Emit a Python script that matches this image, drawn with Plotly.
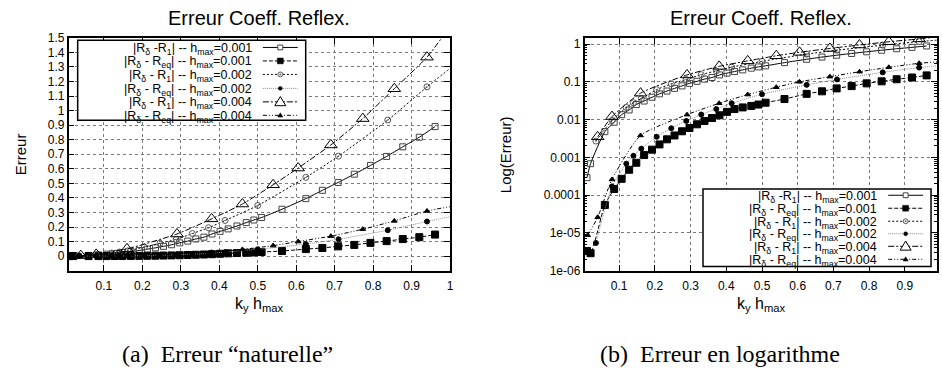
import plotly.graph_objects as go

W, H = 942, 378

# ---------------- data ----------------
x_r1_h001 = [0.01, 0.02, 0.06, 0.086, 0.107, 0.128, 0.148, 0.17, 0.192, 0.213, 0.234, 0.255, 0.276,
             0.297, 0.318, 0.339, 0.36, 0.381, 0.402, 0.423, 0.446, 0.47, 0.49, 0.51, 0.563, 0.625,
             0.668, 0.709, 0.751, 0.793, 0.835, 0.877, 0.92, 0.961]
y_r1_h001 = [0.00029, 0.00068, 0.0048, 0.0085, 0.0135, 0.018, 0.025, 0.031, 0.039, 0.048, 0.057, 0.067,
             0.078, 0.091, 0.103, 0.118, 0.13, 0.152, 0.17, 0.187, 0.207, 0.23, 0.248, 0.265, 0.322,
             0.395, 0.452, 0.506, 0.563, 0.623, 0.685, 0.751, 0.817, 0.89]

x_req_h001 = [0.01, 0.02, 0.06, 0.086, 0.107, 0.128, 0.148, 0.17, 0.192, 0.213, 0.234, 0.255, 0.276,
              0.297, 0.318, 0.339, 0.36, 0.381, 0.402, 0.423, 0.446, 0.47, 0.49, 0.51, 0.563, 0.625,
              0.668, 0.709, 0.751, 0.793, 0.835, 0.877, 0.92, 0.961]
y_req_h001 = [3.3e-6, 2.9e-6, 5.5e-5, 1.45e-4, 2.7e-4, 4.7e-4, 7.2e-4, 0.00115, 0.0016, 0.0022, 0.003,
              0.0038, 0.0049, 0.006, 0.0075, 0.0092, 0.011, 0.013, 0.016, 0.019, 0.021, 0.023, 0.025,
              0.028, 0.035, 0.048, 0.056, 0.067, 0.077, 0.091, 0.103, 0.117, 0.13, 0.148]

x_r1_h002 = [0.035, 0.08, 0.12, 0.14, 0.162, 0.205, 0.246, 0.288, 0.33, 0.372, 0.415, 0.5, 0.625,
             0.71, 0.838, 0.94]
y_r1_h002 = [0.0027, 0.0095, 0.021, 0.028, 0.036, 0.062, 0.088, 0.115, 0.155, 0.195, 0.245, 0.348,
             0.541, 0.687, 0.935, 1.163]

x_req_h002 = [0.035, 0.08, 0.12, 0.14, 0.162, 0.205, 0.246, 0.288, 0.33, 0.372, 0.415, 0.5, 0.625,
              0.71, 0.838, 0.94]
y_req_h002 = [5.4e-6, 1.7e-4, 6.8e-4, 1.1e-3, 1.7e-3, 3.5e-3, 5.9e-3, 9.2e-3, 0.0136, 0.019, 0.027,
              0.047, 0.083, 0.116, 0.178, 0.238]

x_r1_h004 = [0.04, 0.08, 0.16, 0.29, 0.38, 0.46, 0.54, 0.605, 0.69, 0.773, 0.855, 0.94]
y_r1_h004 = [0.0035, 0.012, 0.05, 0.152, 0.256, 0.358, 0.49, 0.605, 0.764, 0.945, 1.15, 1.367]

x_req_h004 = [0.012, 0.04, 0.08, 0.16, 0.29, 0.38, 0.46, 0.54, 0.605, 0.69, 0.773, 0.855, 0.94]
y_req_h004 = [8.7e-6, 2.6e-5, 2.6e-4, 0.0038, 0.0135, 0.027, 0.046, 0.072, 0.1, 0.137, 0.185, 0.242, 0.31]

# curve continuation up to the right border (no marker there)
x_tail = 1.0
y_tail_r1_h002 = 1.29
y_tail_req_h002 = 0.27
y_tail_r1_h004 = 1.58
y_tail_req_h004 = 0.34

legend_labels = [
    "|R<sub>δ</sub> -R<sub>1</sub>| -- h<sub>max</sub>=0.001",
    "|R<sub>δ</sub> - R<sub>eq</sub>| -- h<sub>max</sub>=0.001",
    "|R<sub>δ</sub> - R<sub>1</sub>| -- h<sub>max</sub>=0.002",
    "|R<sub>δ</sub> - R<sub>eq</sub>| -- h<sub>max</sub>=0.002",
    "|R<sub>δ</sub> - R<sub>1</sub>| -- h<sub>max</sub>=0.004",
    "|R<sub>δ</sub> - R<sub>eq</sub>| -- h<sub>max</sub>=0.004",
]
x_ticks_left = [0.1, 0.2, 0.3, 0.4, 0.5, 0.6, 0.7, 0.8, 0.9, 1.0]
x_ticks_right = [0.1, 0.2, 0.3, 0.4, 0.5, 0.6, 0.7, 0.8, 0.9]
y_ticks_left = [0, 0.1, 0.2, 0.3, 0.4, 0.5, 0.6, 0.7, 0.8, 0.9, 1.0, 1.1, 1.2, 1.3, 1.4, 1.5]
y_ticks_right = [1e-6, 1e-5, 1e-4, 1e-3, 1e-2, 1e-1, 1]
y_ticktext_right = ["1e-06", "1e-05", "0.0001", "0.001", "0.01", "0.1", "1"]

# ---------------- styles ----------------
styles = [
    dict(sym="square-open", size=6, mc="#444444", lc="black", dash="solid"),
    dict(sym="square", size=7, mc="black", lc="black", dash="4px,2px"),
    dict(sym="circle-open-dot", size=6, mc="#555555", lc="black", dash="2px,2px"),
    dict(sym="circle", size=5, mc="black", lc="#8a8a8a", dash="1px,1px"),
    dict(sym="triangle-up-open", size=11, mc="black", lc="black", dash="6px,2px,2px,2px"),
    dict(sym="triangle-up", size=5, mc="black", lc="black", dash="4px,2px,1px,2px,1px,2px"),
]
series = [
    (x_r1_h001, y_r1_h001, None),
    (x_req_h001, y_req_h001, None),
    (x_r1_h002, y_r1_h002, y_tail_r1_h002),
    (x_req_h002, y_req_h002, y_tail_req_h002),
    (x_r1_h004, y_r1_h004, y_tail_r1_h004),
    (x_req_h004, y_req_h004, y_tail_req_h004),
]

fig = go.Figure()
for xa, ya in (("x", "y"), ("x2", "y2")):
    for (xs, ys, tail), st in zip(series, styles):
        x = list(xs) + ([x_tail] if tail is not None else [])
        y = list(ys) + ([tail] if tail is not None else [])
        op = [1] * len(xs) + ([0] if tail is not None else [])
        fig.add_trace(go.Scatter(
            x=x, y=y, mode="lines+markers", xaxis=xa, yaxis=ya,
            line=dict(color=st["lc"], width=1, dash=st["dash"], shape="spline", smoothing=0.6),
            marker=dict(symbol=st["sym"], size=st["size"], color=st["mc"], opacity=op,
                        line=dict(width=1, color=st["mc"])),
            showlegend=False, hoverinfo="skip"))


def P(xp):
    return xp / W


def Q(yp):
    return 1 - yp / H


SANS = "Liberation Sans, Arial, sans-serif"
TICKFONT = dict(family=SANS, size=12, color="black")
common = dict(showline=True, linecolor="black", linewidth=1.5, mirror="ticks", ticks="inside",
              ticklen=6, tickwidth=1, tickcolor="black", showgrid=True, gridcolor="#7a7a7a",
              griddash="dot", gridwidth=1, zeroline=False, tickfont=TICKFONT, fixedrange=True)

L_left, L_right = 69, 452
R_left, R_right = 587, 941
top_px, bot_px = 32, 273.8

fig.update_layout(
    width=W, height=H, margin=dict(l=0, r=0, t=0, b=0),
    paper_bgcolor="white", plot_bgcolor="white", showlegend=False,
    xaxis=dict(domain=[P(L_left), P(L_right)], range=[0.0085, 1.0], tickvals=x_ticks_left,
               ticktext=[("%g" % v) for v in x_ticks_left], anchor="y", ticklabelstandoff=3, **common),
    yaxis=dict(domain=[Q(bot_px), Q(top_px)], range=[-0.1, 1.5], tickvals=y_ticks_left,
               ticktext=[("%g" % v) for v in y_ticks_left], anchor="x", **common),
    xaxis2=dict(domain=[P(R_left), P(R_right)], range=[0.003, 0.99], tickvals=x_ticks_right,
                ticktext=[("%g" % v) for v in x_ticks_right], anchor="y2", ticklabelstandoff=3,
                **common),
    yaxis2=dict(domain=[Q(bot_px), Q(top_px)], type="log", range=[-6, 0.165], tickvals=y_ticks_right,
                ticktext=y_ticktext_right, anchor="x2",
                minor=dict(ticks="inside", ticklen=3, tickcolor="black", dtick="D1", showgrid=False),
                **common),
)

ann = []
shapes = []

# titles
for cx in ((L_left + L_right) / 2, (R_left + R_right) / 2):
    ann.append(dict(x=P(cx), y=Q(11.5), xref="paper", yref="paper", text="Erreur Coeff. Reflex.",
                    showarrow=False, xanchor="center", yanchor="middle",
                    font=dict(family=SANS, size=20, color="black")))
    ann.append(dict(x=P(cx), y=Q(309), xref="paper", yref="paper",
                    text="k<sub>y</sub> h<sub>max</sub>",
                    showarrow=False, xanchor="center", yanchor="middle",
                    font=dict(family=SANS, size=16, color="black")))
ann.append(dict(x=P(20), y=Q(153), xref="paper", yref="paper", text="Erreur", textangle=-90,
                showarrow=False, xanchor="center", yanchor="middle",
                font=dict(family=SANS, size=15, color="black")))
ann.append(dict(x=P(507), y=Q(153), xref="paper", yref="paper", text="Log(Erreur)", textangle=-90,
                showarrow=False, xanchor="center", yanchor="middle",
                font=dict(family=SANS, size=15, color="black")))
# captions
SERIF = "Liberation Serif, Times New Roman, serif"
ann.append(dict(x=P(228), y=Q(360), xref="paper", yref="paper", text="(a)  Erreur “naturelle”",
                showarrow=False, xanchor="center", yanchor="middle",
                font=dict(family=SERIF, size=24, color="black")))
ann.append(dict(x=P(723), y=Q(360), xref="paper", yref="paper", text="(b)  Erreur en logarithme",
                showarrow=False, xanchor="center", yanchor="middle",
                font=dict(family=SERIF, size=24, color="black")))


def add_legend(bl, bt, bb, rows):
    shapes.append(dict(type="rect", xref="paper", yref="paper", x0=P(bl), x1=P(bl + 229),
                       y0=Q(bb), y1=Q(bt), line=dict(color="black", width=1.5),
                       fillcolor="white", layer="above"))
    for i, (ry, st, lab) in enumerate(zip(rows, styles, legend_labels)):
        ann.append(dict(x=P(bl + 177), y=Q(ry + 1.5), xref="paper", yref="paper", text=lab,
                        showarrow=False, xanchor="right", yanchor="middle",
                        font=dict(family=SANS, size=12.5, color="black")))
        shapes.append(dict(type="line", xref="paper", yref="paper", x0=P(bl + 186), x1=P(bl + 221),
                           y0=Q(ry), y1=Q(ry), line=dict(color=st["lc"], width=1, dash=st["dash"]),
                           layer="above"))
        cx, cy = bl + 203.5, ry

        def box(hw, hh):
            return dict(xref="paper", yref="paper", x0=P(cx - hw), x1=P(cx + hw),
                        y0=Q(cy + hh), y1=Q(cy - hh), layer="above")

        if i == 0:
            shapes.append(dict(type="rect", line=dict(color="#444444", width=1), fillcolor="white",
                               **box(2.5, 2.5)))
        elif i == 1:
            shapes.append(dict(type="rect", line=dict(color="black", width=0.5), fillcolor="black",
                               **box(3, 3)))
        elif i == 2:
            shapes.append(dict(type="circle", line=dict(color="#555555", width=1), fillcolor="white",
                               **box(2.5, 2.5)))
            shapes.append(dict(type="circle", line=dict(color="#555555", width=0.5),
                               fillcolor="#555555", **box(0.7, 0.7)))
        elif i == 3:
            shapes.append(dict(type="circle", line=dict(color="black", width=0.5), fillcolor="black",
                               **box(2, 2)))
        else:
            hw, up, dn = (5.5, 5.5, 4) if i == 4 else (2.5, 2.6, 1.8)
            path = "M %f,%f L %f,%f L %f,%f Z" % (P(cx - hw), Q(cy + dn), P(cx + hw), Q(cy + dn),
                                                 P(cx), Q(cy - up))
            shapes.append(dict(type="path", xref="paper", yref="paper", path=path, layer="above",
                               line=dict(color="black", width=1 if i == 4 else 0.5),
                               fillcolor="white" if i == 4 else "black"))


add_legend(78, 34.5, 117.5, [42, 56, 70, 84.5, 98.5, 112.5])
add_legend(706, 189, 269.5, [195.5, 209, 222.5, 235.5, 248.5, 262])

fig.update_layout(annotations=ann, shapes=shapes)
fig.write_html("out.html", post_script="document.body.style.margin='0';",
               config={"displayModeBar": False})
